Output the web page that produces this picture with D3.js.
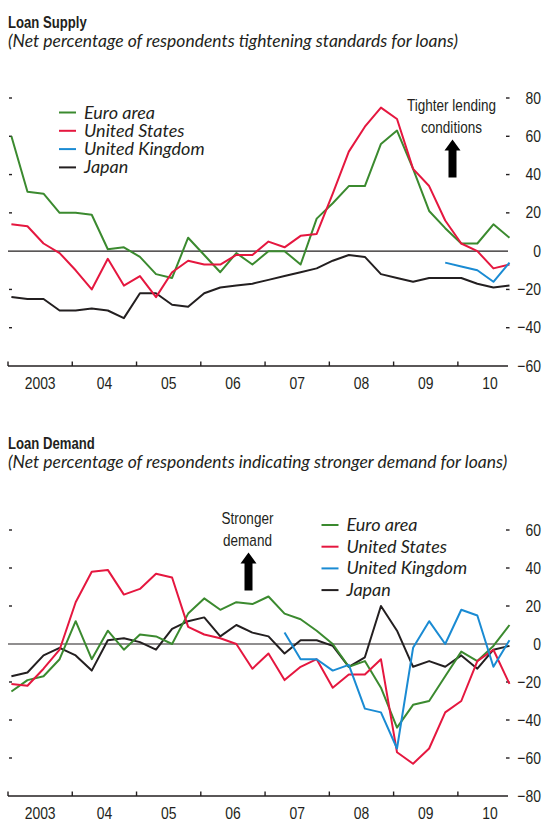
<!DOCTYPE html>
<html>
<head>
<meta charset="utf-8">
<script src="https://cdn.jsdelivr.net/npm/d3@7/dist/d3.min.js"></script>
<style>
  html, body { margin: 0; padding: 0; background: #ffffff; }
  svg { display: block; }
  .cond { font-family: "Liberation Sans", Arial, sans-serif; fill: #231f20; }
  .ital { font-family: Lato, "Open Sans", sans-serif; font-style: italic; fill: #231f20; }
</style>
</head>
<body>
<svg id="chart" width="542" height="823"></svg>
<script>
// Quarterly observations, 2003:Q1 – 2010:Q4
const quarters = [
  "2003Q1","2003Q2","2003Q3","2003Q4","2004Q1","2004Q2","2004Q3","2004Q4",
  "2005Q1","2005Q2","2005Q3","2005Q4","2006Q1","2006Q2","2006Q3","2006Q4",
  "2007Q1","2007Q2","2007Q3","2007Q4","2008Q1","2008Q2","2008Q3","2008Q4",
  "2009Q1","2009Q2","2009Q3","2009Q4","2010Q1","2010Q2","2010Q3","2010Q4"
];

const seriesNames = ["Euro area", "United States", "United Kingdom", "Japan"];
const seriesColors = ["#3b8a2f", "#e5173f", "#1a8bd3", "#231f20"];

// Loan supply: net percentage tightening standards
const supplyEuro = [60, 31, 30, 20, 20, 19, 1, 2, -3, -12, -14, 7, -2, -11, -1, -7,
                    0, 0, -7, 17, 25, 34, 34, 56, 63, 43, 21, 12, 4, 4, 14, 7];
const supplyUS = [14, 13, 4, -1, -10, -20, -4, -18, -13, -24, -11, -5, -7, -7, -2, -2,
                  5, 2, 8, 9, 30, 52, 65, 75, 69, 43, 34, 16, 4, 0, -9, -7];
const supplyUK = [null, null, null, null, null, null, null, null, null, null, null, null, null, null, null, null,
                  null, null, null, null, null, null, null, null, null, null, null, -6, -8, -10, -16, -6];
const supplyJapan = [-24, -25, -25, -31, -31, -30, -31, -35, -22, -22, -28, -29, -22, -19, -18, -17,
                     -15, -13, -11, -9, -5, -2, -3, -12, -14, -16, -14, -14, -14, -17, -19, -18];

// Loan demand: net percentage indicating stronger demand
const demandEuro = [-25, -19, -17, -8, 12, -8, 7, -3, 5, 4, 0, 16, 24, 18, 22, 21,
                    25, 16, 13, 7, 0, -12, -9, -23, -44, -32, -30, -17, -4, -9, -1, 10];
const demandUS = [-21, -22, -13, -3, 22, 38, 39, 26, 29, 37, 35, 9, 5, 3, 0, -13,
                  -5, -19, -12, -8, -23, -16, -16, -8, -57, -63, -55, -36, -30, -9, -3, -21];
const demandUK = [null, null, null, null, null, null, null, null, null, null, null, null, null, null, null, null,
                  null, 6, -8, -8, -14, -11, -34, -36, -55, -2, 12, 0, 18, 15, -12, 2];
const demandJapan = [-17, -15, -6, -2, -6, -14, 2, 3, 1, -3, 8, 12, 14, 4, 10, 6,
                     4, -5, 2, 2, -1, -12, -7, 20, 7, -12, -9, -12, -6, -13, -3, -1];

const yearTicks = [2003, 2004, 2005, 2006, 2007, 2008, 2009, 2010];
const yearLabels = ["2003", "04", "05", "06", "07", "08", "09", "10"];
const supplyTicks = [-60, -40, -20, 0, 20, 40, 60, 80];
const demandTicks = [-80, -60, -40, -20, 0, 20, 40, 60];

const svg = d3.select("#chart");

// time position of each quarter (in years)
const qTime = q => +q.slice(0, 4) + (+q.slice(5) - 1) / 4;

const x = d3.scaleLinear().domain([2002.95, 2010.73]).range([8, 508]);
const fmt = v => (v < 0 ? "\u2212" + Math.abs(v) : String(v));

// narrow sans text: regular sans squeezed horizontally
const NARROW = 0.82;
function narrowText(sel, px, py, str, size, anchor, weight) {
  return sel.append("text").attr("class", "cond")
    .attr("transform", `translate(${px},${py}) scale(${NARROW},1)`)
    .attr("text-anchor", anchor || "start")
    .attr("font-size", size)
    .attr("font-weight", weight || "normal")
    .text(str);
}

function panel(opts) {
  const g = svg.append("g");
  const y = d3.scaleLinear().domain(opts.domain).range(opts.range);
  const [x0, x1] = x.range();
  const yBottom = y(opts.domain[0]);

  // titles
  narrowText(g, 8, opts.titleY, opts.title, 16, "start", "bold");
  g.append("text").attr("class", "ital").attr("x", 8).attr("y", opts.titleY + 19)
    .attr("font-size", 17.5).text(opts.subtitle);

  // tick dashes on both sides and value labels on the right
  const inner = opts.ticks.filter(t => t !== 0 && t !== opts.domain[0]);
  g.selectAll(".ldash").data(inner).join("line")
    .attr("x1", 9).attr("x2", 12).attr("y1", d => y(d)).attr("y2", d => y(d))
    .attr("stroke", "#231f20").attr("stroke-width", 1.4);
  g.selectAll(".rdash").data(inner).join("line")
    .attr("x1", 506).attr("x2", 509.5).attr("y1", d => y(d)).attr("y2", d => y(d))
    .attr("stroke", "#231f20").attr("stroke-width", 1.4);
  opts.ticks.forEach(t => narrowText(g, 541, y(t) + 5.5, fmt(t), 17, "end"));

  // zero line
  g.append("line").attr("x1", x0).attr("x2", x1).attr("y1", y(0)).attr("y2", y(0))
    .attr("stroke", "#231f20").attr("stroke-width", 1.2);

  // x axis with year boundaries
  g.append("line").attr("x1", x0).attr("x2", x1).attr("y1", yBottom).attr("y2", yBottom)
    .attr("stroke", "#231f20").attr("stroke-width", 1.4);
  g.selectAll(".xt").data(yearTicks).join("line")
    .attr("x1", d => x(d - 0.05)).attr("x2", d => x(d - 0.05))
    .attr("y1", yBottom - 4.5).attr("y2", yBottom)
    .attr("stroke", "#231f20").attr("stroke-width", 1.4);
  yearTicks.forEach((d, i) => narrowText(g, x(d + 0.45), yBottom + 23, yearLabels[i], 17, "middle"));

  // series lines
  const line = d3.line()
    .defined(d => d.v !== null)
    .x(d => x(qTime(d.q) + 0.003))
    .y(d => y(d.v));
  const drawOrder = [3, 0, 1, 2];
  drawOrder.forEach(i => {
    const pts = quarters.map((q, k) => ({ q, v: opts.series[i][k] }));
    g.append("path").attr("d", line(pts)).attr("fill", "none")
      .attr("stroke", seriesColors[i]).attr("stroke-width", 2)
      .attr("stroke-linejoin", "round");
  });

  // legend
  const lg = g.append("g");
  seriesNames.forEach((name, i) => {
    const ly = opts.legendY + i * opts.legendStep;
    lg.append("line").attr("x1", opts.legendX).attr("x2", opts.legendX + 17)
      .attr("y1", ly).attr("y2", ly).attr("stroke", seriesColors[i]).attr("stroke-width", 2);
    lg.append("text").attr("class", "ital").attr("x", opts.legendX + 25).attr("y", ly + 6)
      .attr("font-size", 18).text(name);
  });

  // directional note with upward arrow
  const [n1, n2] = opts.note;
  narrowText(g, opts.noteX, opts.noteY, n1, 16.5, "middle");
  narrowText(g, opts.noteX, opts.noteY + 22.5, n2, 16.5, "middle");
  const ax = opts.noteX + 1, top = opts.noteY + 29, bot = opts.noteY + 67;
  const arrow = d3.path();
  arrow.moveTo(ax, top);
  arrow.lineTo(ax + 8, top + 11);
  arrow.lineTo(ax + 4, top + 11);
  arrow.lineTo(ax + 4, bot);
  arrow.lineTo(ax - 4, bot);
  arrow.lineTo(ax - 4, top + 11);
  arrow.lineTo(ax - 8, top + 11);
  arrow.closePath();
  g.append("path").attr("d", arrow.toString()).attr("fill", "#000");
}

panel({
  title: "Loan Supply",
  subtitle: "(Net percentage of respondents tightening standards for loans)",
  titleY: 28,
  domain: [-60, 80], range: [366, 98],
  ticks: supplyTicks,
  series: [supplyEuro, supplyUS, supplyUK, supplyJapan],
  legendX: 59, legendY: 112.5, legendStep: 18.3,
  note: ["Tighter lending", "conditions"], noteX: 451.5, noteY: 110.5
});

panel({
  title: "Loan Demand",
  subtitle: "(Net percentage of respondents indicating stronger demand for loans)",
  titleY: 448.5,
  domain: [-80, 60], range: [796, 530],
  ticks: demandTicks,
  series: [demandEuro, demandUS, demandUK, demandJapan],
  legendX: 321.5, legendY: 525, legendStep: 21.7,
  note: ["Stronger", "demand"], noteX: 247.5, noteY: 523.5
});
</script>
</body>
</html>
